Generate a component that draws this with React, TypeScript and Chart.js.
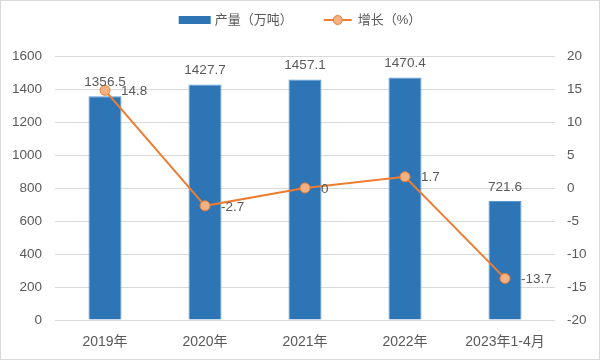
import React, { useEffect, useRef } from "react";
import { Chart, registerables } from "chart.js";

Chart.register(...registerables);

const categories = ["2019年", "2020年", "2021年", "2022年", "2023年1-4月"];
const output = [1356.5, 1427.7, 1457.1, 1470.4, 721.6];
const growth = [14.8, -2.7, 0, 1.7, -13.7];
const outputLabel = "产量（万吨）";
const growthLabel = "增长（%）";

const FONT = '"Liberation Sans", "Noto Sans CJK SC", sans-serif';
const TEXT = "#595959";
const BAR = "#2E75B6";
const LINE = "#ED7D31";
const POINT_FILL = "#F4B183";

const framePlugin = {
  id: "frame",
  beforeDraw(chart: any) {
    const ctx = chart.ctx;
    ctx.save();
    ctx.fillStyle = "#ffffff";
    ctx.fillRect(0, 0, chart.width, chart.height);
    ctx.strokeStyle = "#d9d9d9";
    ctx.lineWidth = 1;
    ctx.strokeRect(0.5, 0.5, chart.width - 1, chart.height - 1);
    ctx.restore();
  },
};

const legendPlugin = {
  id: "customLegend",
  afterDraw(chart: any) {
    const ctx = chart.ctx;
    ctx.save();
    ctx.font = `13px ${FONT}`;
    ctx.textBaseline = "middle";
    const w1 = ctx.measureText(outputLabel).width;
    const w2 = ctx.measureText(growthLabel).width;
    const total = 32 + 4 + w1 + 31 + 28 + 6 + w2;
    let x = chart.width / 2 - total / 2;
    const y = 20;
    ctx.fillStyle = BAR;
    ctx.fillRect(x, y - 4, 32, 8);
    x += 36;
    ctx.fillStyle = TEXT;
    ctx.textAlign = "left";
    ctx.fillText(outputLabel, x, y);
    x += w1 + 31;
    ctx.strokeStyle = LINE;
    ctx.lineWidth = 2;
    ctx.beginPath();
    ctx.moveTo(x, y);
    ctx.lineTo(x + 28, y);
    ctx.stroke();
    ctx.beginPath();
    ctx.arc(x + 14, y, 4.5, 0, Math.PI * 2);
    ctx.fillStyle = POINT_FILL;
    ctx.fill();
    ctx.lineWidth = 1;
    ctx.stroke();
    x += 34;
    ctx.fillStyle = TEXT;
    ctx.fillText(growthLabel, x, y);
    ctx.restore();
  },
};

const labelsPlugin = {
  id: "dataLabels",
  afterDatasetsDraw(chart: any) {
    const ctx = chart.ctx;
    ctx.save();
    ctx.font = `13.5px ${FONT}`;
    ctx.fillStyle = TEXT;
    ctx.textBaseline = "middle";
    const barMeta = chart.getDatasetMeta(1);
    barMeta.data.forEach((el: any, i: number) => {
      ctx.textAlign = "center";
      ctx.fillText(String(output[i]), el.x, el.y - 14);
    });
    const lineMeta = chart.getDatasetMeta(0);
    lineMeta.data.forEach((el: any, i: number) => {
      ctx.textAlign = "left";
      ctx.fillText(String(growth[i]), el.x + 16, el.y + 1);
    });
    ctx.restore();
  },
};

export default function App() {
  const ref = useRef<HTMLCanvasElement>(null);
  useEffect(() => {
    if (!ref.current) return;
    const chart = new Chart(ref.current, {
      type: "bar",
      data: {
        labels: categories,
        datasets: [
          {
            type: "line",
            label: growthLabel,
            data: growth,
            yAxisID: "y1",
            borderColor: LINE,
            borderWidth: 2,
            pointRadius: 5,
            pointBackgroundColor: POINT_FILL,
            pointBorderColor: LINE,
            pointBorderWidth: 1,
            tension: 0,
            order: 0,
          } as any,
          {
            type: "bar",
            label: outputLabel,
            data: output,
            yAxisID: "y",
            backgroundColor: BAR,
            borderColor: "#5B9BD5",
            borderWidth: 1,
            categoryPercentage: 1,
            barPercentage: 0.33,
            order: 1,
          },
        ],
      },
      options: {
        animation: false,
        responsive: false,
        layout: { padding: { top: 56, left: 0, right: 0, bottom: 0 } },
        plugins: {
          legend: { display: false },
          tooltip: { enabled: false },
        },
        scales: {
          x: {
            grid: { display: false, drawTicks: false },
            border: { display: false },
            ticks: { color: TEXT, font: { family: FONT, size: 14 }, padding: 14, maxRotation: 0 },
            afterFit: (s: any) => { s.height = 40; },
          },
          y: {
            position: "left",
            min: 0,
            max: 1600,
            grid: { color: "#d9d9d9", drawTicks: false },
            border: { display: false },
            ticks: {
              stepSize: 200,
              color: TEXT,
              font: { family: FONT, size: 13.5 },
              padding: 13,
              callback: (v: any) => String(v),
            },
            afterFit: (s: any) => { s.width = 55; },
          },
          y1: {
            position: "right",
            min: -20,
            max: 20,
            grid: { display: false, drawTicks: false },
            border: { display: false },
            ticks: {
              stepSize: 5,
              color: TEXT,
              font: { family: FONT, size: 13.5 },
              padding: 12,
              callback: (v: any) => String(v),
            },
            afterFit: (s: any) => { s.width = 45; },
          },
        },
      },
      plugins: [framePlugin, legendPlugin, labelsPlugin],
    });
    return () => chart.destroy();
  }, []);
  return (
    <div style={{ position: "absolute", left: 0, top: 0, width: 600, height: 360 }}>
      <canvas ref={ref} width={600} height={360} style={{ display: "block" }} />
    </div>
  );
}
